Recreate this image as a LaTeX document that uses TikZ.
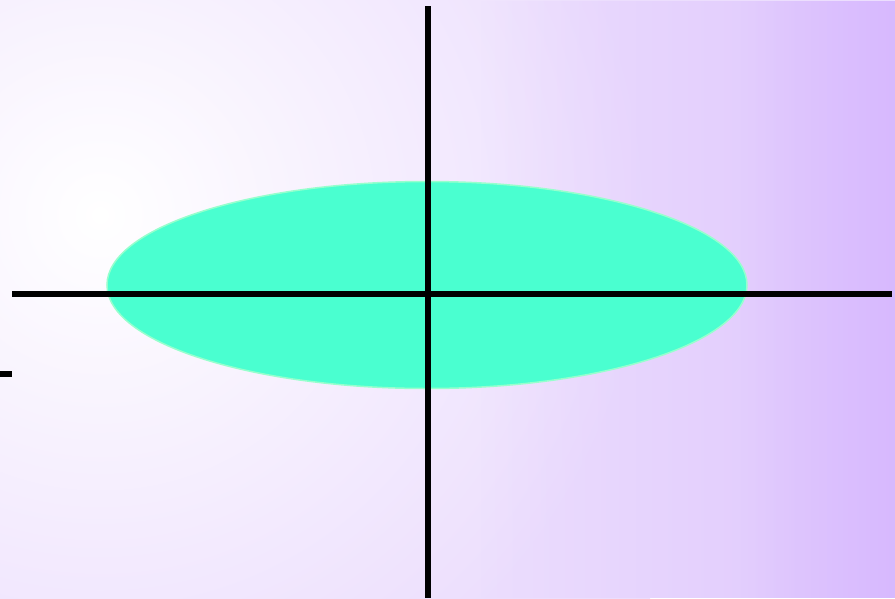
\documentclass[tikz,border=0pt]{standalone}
\usetikzlibrary{shapes.geometric,fadings}
\usepackage{xcolor}
\definecolor{lavender}{RGB}{236, 222, 253}
\definecolor{violetedge}{RGB}{214, 182, 255}
\definecolor{mintfill}{RGB}{74, 255, 208}
\definecolor{mintedge}{RGB}{150, 255, 205}

\begin{document}
\begin{tikzpicture}[x=1pt, y=-1pt]
    \useasboundingbox (0,0) rectangle (895,598);
    % background
    \begin{scope}
        \clip (0,0) rectangle (895,598);
        \fill[lavender] (0,0) rectangle (895,598);
        \shade[inner color=white, outer color=lavender] (-450,-335) rectangle (650,765);
        \fill[violetedge, opacity=0.6, path fading=west] (480,0) rectangle (895,598);
        \fill[violetedge, opacity=0.8, path fading=west] (740,0) rectangle (895,598);
    \end{scope}

    \node[draw=mintedge, line width=1.5pt, fill=mintfill, ellipse, minimum width=640pt, minimum height=207pt, inner sep=0pt] (blob) at (427,285) {};

    \coordinate (xl) at (12,294);
    \coordinate (xr) at (892,294);
    \coordinate (yt) at (428,6);
    \coordinate (yb) at (428,598);
    \coordinate (tl) at (0,374);
    \coordinate (tr) at (12,374);

    \draw[line width=6pt] (xl) -- (xr);
    \draw[line width=6pt] (yt) -- (yb);
    \draw[line width=6pt] (tl) -- (tr);
\end{tikzpicture}
\end{document}
